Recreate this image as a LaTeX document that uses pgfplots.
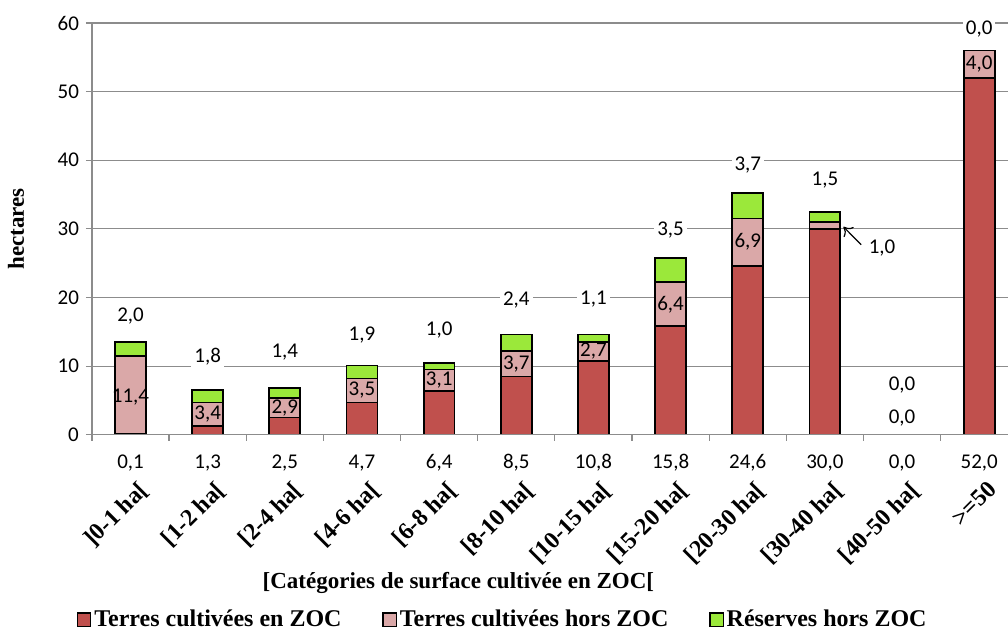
\documentclass[border=0pt]{standalone}
\usepackage{pgfplots}
\pgfplotsset{compat=1.18}
\usepackage{pgfplotstable}
\usepackage{fontspec}
\setmainfont{Liberation Serif}
\newfontfamily\numfont{Carlito}
\usetikzlibrary{arrows.meta}

\definecolor{zocred}{RGB}{192,80,77}
\definecolor{zocpink}{RGB}{218,168,168}
\definecolor{zocgreen}{RGB}{155,232,58}
\definecolor{gridgray}{RGB}{140,140,140}

% red = Terres cultivees en ZOC, pink = hors ZOC, green = reserves hors ZOC
% gy, px/py, ry = where the value labels sit
\pgfplotstableread{
x red  pink green gy   px    py    ry
0 0.1  11.4 2.0   17.3 0     5.5   -4.1
1 1.3  3.4  1.8   11.4 1     3.0   -4.1
2 2.5  2.9  1.4   12.1 2     3.95  -4.1
3 4.7  3.5  1.9   14.6 3     6.45  -4.1
4 6.4  3.1  1.0   15.3 4     7.95  -4.1
5 8.5  3.7  2.4   19.7 5     10.35 -4.1
6 10.8 2.7  1.1   19.7 6     12.15 -4.1
7 15.8 6.4  3.5   29.8 7     19.0  -4.1
8 24.6 6.9  3.7   39.3 8     28.05 -4.1
9 30.0 1.0  1.5   37.1 9.74  27.2  -4.1
10 0.0 0.0  0.0   7.3  10    2.5   -4.1
11 52.0 4.0 0.0   59.1 11    54.0  -4.1
}\surf

\newcommand{\numfmt}[1]{\pgfmathprintnumber[fixed, fixed zerofill, precision=1, use comma, assume math mode=true]{#1}}
\newcommand{\numsize}{\numfont\fontsize{10.5}{12}\selectfont}
\newcommand{\boldsize}{\bfseries\fontsize{11.5}{13}\selectfont}
\newcommand{\legsize}{\bfseries\fontsize{12}{14}\selectfont}

\pgfplotsset{
  frame/.style={
    scale only axis, width=458.3pt, height=206pt,
    xmin=-0.5, xmax=11.373, ymin=0, ymax=60,
    enlargelimits=false,
  },
  lab/.style={draw=none, mark=none, point meta=explicit,
    nodes near coords={\numfmt{\pgfplotspointmeta}},
    every node near coord/.append style={anchor=center, font=\numsize, inner sep=1.5pt, #1}},
}

\begin{document}
\begin{tikzpicture}
\useasboundingbox (-46pt,-97.5pt) rectangle (458.3pt,217.5pt);

\begin{axis}[
  frame,
  ybar stacked, bar width=0.4,
  axis lines=left, axis line style={-, draw=gridgray, line width=0.6pt},
  xtick={-0.5,0.5,...,10.5}, xticklabels={},
  ytick={0,10,...,60},
  tick align=outside, major tick length=3pt,
  tick style={draw=gridgray, line width=0.6pt},
  ymajorgrids, grid style={draw=gridgray, line width=0.6pt},
  yticklabel style={font=\numsize},
  /pgf/number format/assume math mode=true,
  every axis y label/.style={at={(axis description cs:0,0.5)}, xshift=-38pt, rotate=90, anchor=center, font=\boldsize},
  ylabel={hectares},
  every axis x label/.style={at={(axis description cs:0.186,-0.359)}, anchor=west, inner sep=0pt, font=\boldsize},
  xlabel={[Catégories de surface cultivée en ZOC[},
  legend style={at={(axis description cs:-0.0168,-0.449)}, anchor=west, draw=none, inner sep=0pt,
    font=\legsize, legend columns=3,
    nodes={inner xsep=1.5pt},
    /tikz/every even column/.append style={column sep=19pt}},
  legend image code/.code={\draw[#1, line width=0.6pt] (0pt,-3.3pt) rectangle (6.6pt,3.3pt);},
]
\addplot[fill=zocred, draw=black, line width=0.9pt] table[x=x, y=red] {\surf};
\addlegendentry{Terres cultivées en ZOC}
\addplot[fill=zocpink, draw=black, line width=0.9pt] table[x=x, y=pink] {\surf};
\addlegendentry{Terres cultivées hors ZOC}
\addplot[fill=zocgreen, draw=black, line width=0.9pt] table[x=x, y=green] {\surf};
\addlegendentry{Réserves hors ZOC}
\end{axis}

\begin{axis}[
  frame,
  clip=false,
  axis x line=bottom, axis y line=none,
  axis line style={-, draw=gridgray, line width=0.7pt},
  xtick={0,...,11},
  xticklabels={{]0-1 ha[}, {[1-2 ha[}, {[2-4 ha[}, {[4-6 ha[}, {[6-8 ha[}, {[8-10 ha[},
    {[10-15 ha[}, {[15-20 ha[}, {[20-30 ha[}, {[30-40 ha[}, {[40-50 ha[}, {>=50}},
  major tick length=0pt,
  xticklabel style={xshift=3.5pt, yshift=-21.5pt, rotate=45, anchor=north east, font=\legsize, inner sep=0.5pt},
  ytick=\empty,
]
\addplot[lab={fill=white}] table[x=x, y=gy, meta=green] {\surf};
\addplot[lab={}] table[x=px, y=py, meta=pink] {\surf};
\addplot[lab={}] table[x=x, y=ry, meta=red] {\surf};
\addplot[-{To[length=4pt, width=7pt]}, black, line width=0.6pt, mark=none]
  coordinates {(9.47,27.7) (9.24,30.3)};
\end{axis}
\end{tikzpicture}
\end{document}
